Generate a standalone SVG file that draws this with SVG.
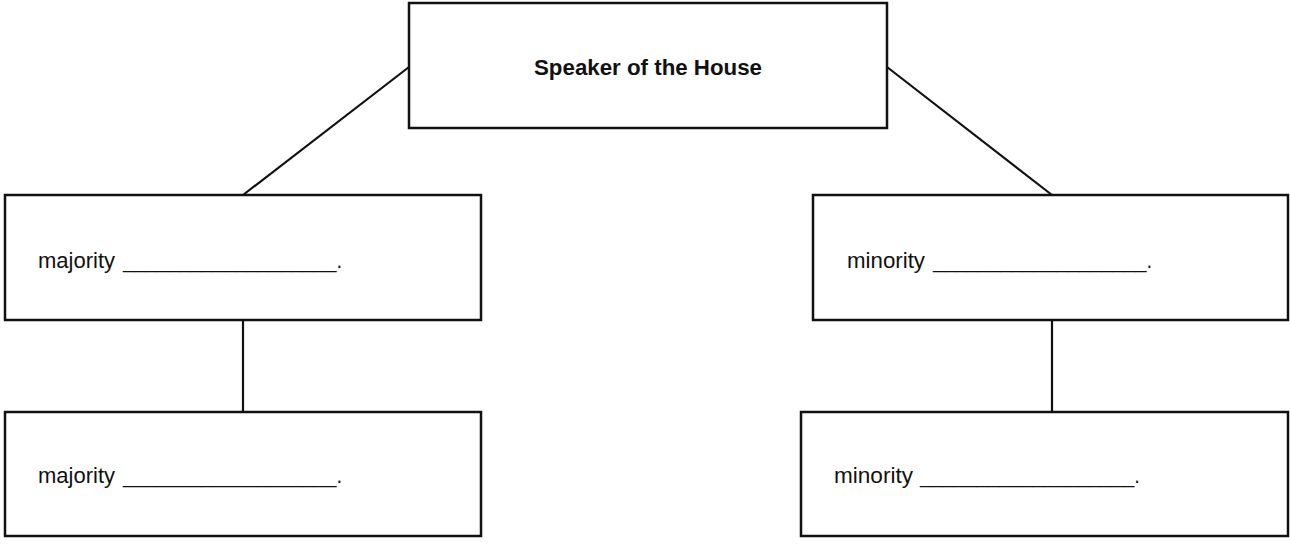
<svg xmlns="http://www.w3.org/2000/svg" width="1290" height="544" viewBox="0 0 1290 544">
  <style>
    .box { fill: #ffffff; stroke: #111111; stroke-width: 2.5; }
    .link { stroke: #111111; stroke-width: 2.2; fill: none; }
    .lbl { font-family: "Liberation Sans", Arial, sans-serif; font-size: 22px; fill: #111111; }
    .title { font-size: 22px; font-weight: bold; text-anchor: middle; }
  </style>
  <rect width="1290" height="544" fill="#ffffff"/>

  <g id="connectors">
    <line class="link" x1="409" y1="67" x2="243" y2="195"/>
    <line class="link" x1="887" y1="67" x2="1052" y2="195"/>
    <line class="link" x1="243" y1="320" x2="243" y2="412"/>
    <line class="link" x1="1052" y1="320" x2="1052" y2="412"/>
  </g>

  <g id="speaker">
    <rect class="box" x="409" y="3" width="478" height="125"/>
    <text class="lbl title" x="648" y="75" textLength="228" lengthAdjust="spacingAndGlyphs">Speaker of the House</text>
  </g>

  <g id="majority-leader">
    <rect class="box" x="5" y="195" width="476" height="125"/>
    <text class="lbl" y="268"><tspan x="38" textLength="77" lengthAdjust="spacingAndGlyphs">majority</tspan><tspan x="123" textLength="219" lengthAdjust="spacingAndGlyphs">___________________.</tspan></text>
  </g>

  <g id="minority-leader">
    <rect class="box" x="813" y="195" width="475" height="125"/>
    <text class="lbl" y="268"><tspan x="847" textLength="78" lengthAdjust="spacingAndGlyphs">minority</tspan><tspan x="933" textLength="219" lengthAdjust="spacingAndGlyphs">___________________.</tspan></text>
  </g>

  <g id="majority-whip">
    <rect class="box" x="5" y="412" width="476" height="124"/>
    <text class="lbl" y="483"><tspan x="38" textLength="77" lengthAdjust="spacingAndGlyphs">majority</tspan><tspan x="123" textLength="219" lengthAdjust="spacingAndGlyphs">___________________.</tspan></text>
  </g>

  <g id="minority-whip">
    <rect class="box" x="801" y="412" width="487" height="124"/>
    <text class="lbl" y="483"><tspan x="834" textLength="79" lengthAdjust="spacingAndGlyphs">minority</tspan><tspan x="920" textLength="220" lengthAdjust="spacingAndGlyphs">___________________.</tspan></text>
  </g>
</svg>
